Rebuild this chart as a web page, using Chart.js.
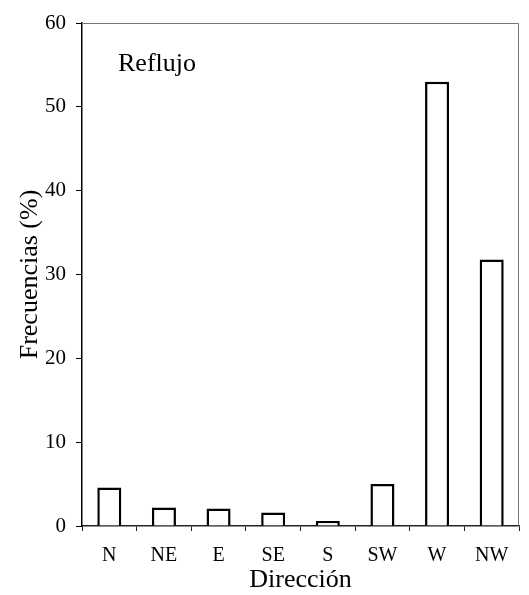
<!DOCTYPE html>
<html>
<head>
<meta charset="utf-8">
<script src="https://cdn.jsdelivr.net/npm/chart.js@4/dist/chart.umd.min.js"></script>
<style>
  html, body { margin: 0; padding: 0; background: #fff; }
  #wrap { width: 529px; height: 595px; }
</style>
</head>
<body>
<div id="wrap"><canvas id="dirChart" width="529" height="595"></canvas></div>
<script>
// Direcciones y frecuencias (%)
const direcciones = ['N', 'NE', 'E', 'SE', 'S', 'SW', 'W', 'NW'];
const frecuencias = [4.6, 2.2, 2.1, 1.6, 0.6, 5.0, 53.0, 31.8];
const yTicks = [0, 10, 20, 30, 40, 50, 60];
const panelLabel = 'Reflujo';

const serif = "'Liberation Serif', 'Times New Roman', serif";

// marco superior/derecho y la etiqueta del panel
const framePlugin = {
    id: 'frame',
    afterDraw(chart) {
        const { ctx, chartArea: a } = chart;
        ctx.save();
        ctx.strokeStyle = '#777';
        ctx.lineWidth = 1;
        ctx.beginPath();
        ctx.moveTo(a.left, a.top + 0.5);
        ctx.lineTo(a.right - 0.5, a.top + 0.5);
        ctx.lineTo(a.right - 0.5, a.bottom);
        ctx.stroke();
        ctx.fillStyle = '#000';
        ctx.font = '26px ' + serif;
        ctx.textBaseline = 'alphabetic';
        ctx.fillText(panelLabel, 118, 71);
        ctx.restore();
    }
};

const ctx = document.getElementById('dirChart').getContext('2d');
new Chart(ctx, {
    type: 'bar',
    data: {
        labels: direcciones,
        datasets: [{
            label: '',
            data: frecuencias,
            backgroundColor: '#fff',
            borderColor: '#000',
            borderWidth: 2.5,
            borderSkipped: 'bottom',
            barPercentage: 0.44,
            categoryPercentage: 1
        }]
    },
    options: {
        responsive: false,
        animation: false,
        layout: { padding: { top: 23, right: 10, left: 0, bottom: 0 } },
        plugins: {
            legend: { display: false },
            title: { display: false },
            tooltip: { enabled: false }
        },
        scales: {
            x: {
                afterFit: s => { s.height = 69; },
                border: { color: '#222', width: 1.5 },
                grid: { drawOnChartArea: false, tickLength: 5, color: '#222', offset: true },
                ticks: { color: '#000', font: { family: serif, size: 20 }, padding: 13, maxRotation: 0 },
                title: {
                    display: true, text: 'Dirección', color: '#000',
                    font: { family: serif, size: 26, lineHeight: 1 },
                    padding: { top: 0, bottom: 2 }
                }
            },
            y: {
                min: 0, max: 60,
                afterFit: s => { s.width = 82; },
                afterBuildTicks: s => { s.ticks = yTicks.map(v => ({ value: v })); },
                border: { color: '#000', width: 1.5 },
                grid: { drawOnChartArea: false, tickLength: 6, color: '#000' },
                ticks: { color: '#000', font: { family: serif, size: 21 }, padding: 10 },
                title: {
                    display: true, text: 'Frecuencias (%)', color: '#000',
                    font: { family: serif, size: 26, lineHeight: 1 },
                    padding: { top: 17, bottom: 0 }
                }
            }
        }
    },
    plugins: [framePlugin]
});
</script>
</body>
</html>
